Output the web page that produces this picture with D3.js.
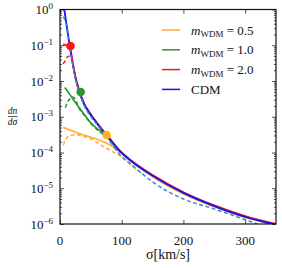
<!DOCTYPE html>
<html><head><meta charset="utf-8">
<script src="https://cdn.jsdelivr.net/npm/d3@7"></script>
<style>html,body{margin:0;padding:0;background:#fff}svg{display:block}</style>
</head><body><svg id="c" width="282" height="268"></svg>
<script>
// ---- data ----
const sigmaCDM = [6, 7, 10, 13, 17, 20, 25, 30, 35, 40, 46, 57, 64, 75, 97, 116, 150, 200, 250, 300, 350];
const dndsCDM  = [1.32, 1.0, 0.437, 0.200, 0.0708, 0.0355, 0.0126, 0.00603, 0.00331, 0.00209, 0.00141, 7.59e-4, 5.25e-4, 3.09e-4, 1.07e-4, 5.62e-5, 2.24e-5, 7.41e-6, 3.16e-6, 1.58e-6, 9.55e-7];

const sigmaCDMDash = [5.4, 8, 10, 13, 17, 20, 25, 30, 40, 50, 60, 75, 97, 120, 150, 200, 250, 300, 320];
const dndsCDMDash  = [0.631, 0.501, 0.380, 0.178, 0.0661, 0.0331, 0.0117, 0.00562, 0.00191, 0.001, 6.03e-4, 2.82e-4, 8.71e-5, 3.98e-5, 1.51e-5, 5.01e-6, 2.63e-6, 1.32e-6, 1.0e-6];

const sigmaW05 = [5.4, 10, 20, 30, 40, 55, 73, 88, 100, 120, 150, 200, 250, 300, 350];
const dndsW05  = [5.01e-4, 4.68e-4, 3.98e-4, 3.47e-4, 3.02e-4, 2.51e-4, 1.91e-4, 1.38e-4, 9.55e-5, 5.01e-5, 2.09e-5, 6.92e-6, 3.02e-6, 1.51e-6, 9.33e-7];
const sigmaW05Dash = [5.4, 8, 12, 18, 25, 35, 50, 73, 90, 100, 120, 135];
const dndsW05Dash  = [1.58e-4, 2.14e-4, 2.69e-4, 3.02e-4, 3.16e-4, 2.95e-4, 2.40e-4, 1.38e-4, 9.55e-5, 7.59e-5, 3.80e-5, 2.40e-5];

const sigmaW10 = [7.6, 12, 20, 30, 40, 50, 60, 70, 80, 97, 116, 150, 200, 250, 300, 350];
const dndsW10  = [6.61e-3, 5.25e-3, 3.31e-3, 1.91e-3, 1.12e-3, 6.76e-4, 4.68e-4, 3.55e-4, 2.51e-4, 1.10e-4, 5.75e-5, 2.29e-5, 7.59e-6, 3.24e-6, 1.62e-6, 9.77e-7];
const sigmaW10Dash = [8.6, 12, 16, 21, 26, 30, 40, 50, 60, 75, 90];
const dndsW10Dash  = [1.78e-3, 2.51e-3, 3.16e-3, 3.55e-3, 2.82e-3, 1.86e-3, 1.07e-3, 6.46e-4, 4.37e-4, 2.69e-4, 1.32e-4];

const sigmaW20 = [5, 10, 14, 17, 20, 25, 30, 35, 40, 46, 57, 64, 75, 97, 116, 150, 200, 250, 300, 350];
const dndsW20  = [0.105, 0.1, 0.0912, 0.0759, 0.0372, 0.0132, 0.00631, 0.00347, 0.00219, 0.00148, 7.94e-4, 5.50e-4, 3.24e-4, 1.12e-4, 5.89e-5, 2.34e-5, 7.76e-6, 3.31e-6, 1.66e-6, 1.0e-6];
const sigmaW20Dash = [5, 8, 12, 16, 19, 22, 25, 30];
const dndsW20Dash  = [0.0302, 0.0355, 0.0468, 0.0501, 0.0427, 0.0240, 0.0120, 0.00562];

const markerSigma = [17, 33.5, 75.6];
const markerDnds  = [0.0955, 4.9e-3, 3.09e-4];
const markerKeys  = ["w20", "w10", "w05"];

const legendLabels = ["0.5", "1.0", "2.0", "CDM"];
const legendKeys   = ["w05", "w10", "w20", "cdm"];
const xTicks = [0, 100, 200, 300];
const yTickExps = [0, -1, -2, -3, -4, -5, -6];

// ---- styles ----
const FONT = "'Liberation Serif', 'Times New Roman', Times, 'Nimbus Roman', 'Nimbus Roman No9 L', FreeSerif, 'Noto Serif', 'DejaVu Serif', serif";
const colors = {w05: "#ffad2a", w10: "#2e952e", w20: "#ff1414", cdm: "#1414ff", cdmDash: "#3a8ad4"};

const svg = d3.select("#c").style("font-family", FONT);
const L = 60, R = 276, T = 9.5, B = 224;
const x = d3.scaleLinear().domain([0, 350]).range([L, R]);
const y = d3.scaleLog().domain([1e-6, 1]).range([B, T]);

svg.append("defs").append("clipPath").attr("id", "clip")
  .append("rect").attr("x", L).attr("y", T).attr("width", R - L).attr("height", B - T);

const line = d3.line().x(d => x(d[0])).y(d => y(d[1])).curve(d3.curveMonotoneX);
const zip = (a, b) => a.map((v, i) => [v, b[i]]);
const g = svg.append("g").attr("clip-path", "url(#clip)");

function draw(sx, sy, col, w, dash) {
  const p = g.append("path").datum(zip(sx, sy)).attr("d", line)
    .attr("fill", "none").attr("stroke", col).attr("stroke-width", w)
    .attr("stroke-linejoin", "round");
  if (dash) p.attr("stroke-dasharray", dash);
}
draw(sigmaW05, dndsW05, colors.w05, 1.6);
draw(sigmaW10, dndsW10, colors.w10, 1.6);
draw(sigmaW20, dndsW20, colors.w20, 1.8);
draw(sigmaCDM, dndsCDM, colors.cdm, 1.8);
draw(sigmaW05Dash, dndsW05Dash, colors.w05, 1.5, "4,2.5");
draw(sigmaW10Dash, dndsW10Dash, colors.w10, 1.5, "4,2.5");
draw(sigmaW20Dash, dndsW20Dash, colors.w20, 1.5, "4,2.5");
draw(sigmaCDMDash, dndsCDMDash, colors.cdmDash, 1.5, "4,2.5");

g.selectAll("circle.m").data(markerSigma.map((s, i) => [s, markerDnds[i], markerKeys[i]]))
  .join("circle").attr("class", "m")
  .attr("cx", d => x(d[0])).attr("cy", d => y(d[1])).attr("r", 4.3)
  .attr("fill", d => colors[d[2]]);

// ---- axes ----
const frame = svg.append("g");
const yMinor = [];
for (let e = -6; e < 0; e++) for (let k = 2; k <= 9; k++) yMinor.push(k * Math.pow(10, e));

const axL = d3.axisLeft(y).tickValues(yTickExps.map(e => Math.pow(10, e))).tickSize(-4).tickFormat("");
const axR = d3.axisRight(y).tickValues(yTickExps.map(e => Math.pow(10, e))).tickSize(-4).tickFormat("");
const axLm = d3.axisLeft(y).tickValues(yMinor).tickSize(-2).tickFormat("");
const axRm = d3.axisRight(y).tickValues(yMinor).tickSize(-2).tickFormat("");
const axB = d3.axisBottom(x).tickValues(xTicks).tickSize(-4).tickFormat("");
const axT = d3.axisTop(x).tickValues(xTicks).tickSize(-4).tickFormat("");
[[axL, `translate(${L},0)`], [axLm, `translate(${L},0)`], [axR, `translate(${R},0)`], [axRm, `translate(${R},0)`],
 [axB, `translate(0,${B})`], [axT, `translate(0,${T})`]].forEach(([a, t]) => {
  const gg = frame.append("g").attr("transform", t).call(a);
  gg.select(".domain").remove();
  gg.selectAll("line").attr("stroke", "#222").attr("stroke-width", 0.8);
});
frame.append("rect").attr("x", L).attr("y", T).attr("width", R - L).attr("height", B - T)
  .attr("fill", "none").attr("stroke", "#111").attr("stroke-width", 1.2);

// y tick labels
yTickExps.forEach(e => {
  const t = svg.append("text").attr("x", 53).attr("y", y(Math.pow(10, e)) + 4.5)
    .style("font-family", FONT)
    .attr("text-anchor", "end").attr("font-size", 13).attr("fill", "#111");
  t.append("tspan").text("10");
  t.append("tspan").attr("dy", -5).attr("font-size", 9).text(e === 0 ? "0" : "\u2212" + (-e));
});
// x tick labels
xTicks.forEach(v => {
  svg.append("text").attr("x", x(v)).attr("y", 245).attr("text-anchor", "middle")
    .style("font-family", FONT)
    .attr("font-size", 13).attr("fill", "#111").text(v);
});
// axis titles
svg.append("text").attr("x", 168).attr("y", 259).attr("text-anchor", "middle")
  .style("font-family", FONT)
  .attr("font-size", 14).attr("fill", "#111").text("\u03c3[km/s]");
const yl = svg.append("g").attr("font-size", 9.5).attr("font-style", "italic").attr("fill", "#111")
  .style("font-family", FONT);
yl.append("text").attr("x", 12.5).attr("y", 113.5).attr("text-anchor", "middle").text("dn");
yl.append("line").attr("x1", 8).attr("x2", 17.5).attr("y1", 116.5).attr("y2", 116.5).attr("stroke", "#111").attr("stroke-width", 0.7);
yl.append("text").attr("x", 12.5).attr("y", 124.5).attr("text-anchor", "middle").text("d\u03c3");

// legend
legendKeys.forEach((k, i) => {
  const yy = 30 + i * 19.8;
  svg.append("line").attr("x1", 162).attr("x2", 180).attr("y1", yy).attr("y2", yy)
    .attr("stroke", colors[k]).attr("stroke-width", 1.5);
  const t = svg.append("text").attr("x", 191).attr("y", yy + 4.5).attr("font-size", 13)
    .style("font-family", FONT).attr("fill", "#111");
  if (k === "cdm") { t.text(legendLabels[i]); return; }
  t.append("tspan").attr("font-style", "italic").text("m");
  t.append("tspan").attr("font-size", 9).attr("dy", 2.5).text("WDM");
  t.append("tspan").attr("dy", -2.5).text(" = " + legendLabels[i]);
});
</script></body></html>
